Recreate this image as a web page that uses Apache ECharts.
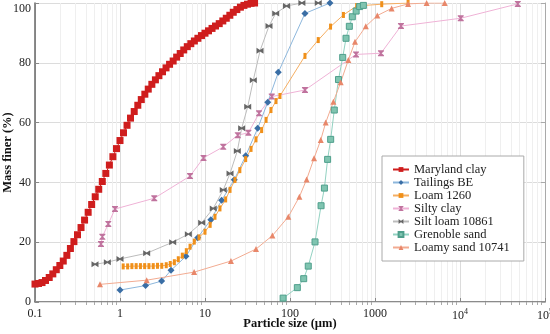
<!DOCTYPE html>
<html><head><meta charset="utf-8">
<script src="https://cdn.jsdelivr.net/npm/echarts@6/dist/echarts.min.js"></script>
<style>html,body{margin:0;padding:0;background:#fff}#c{width:550px;height:334px}</style>
</head><body><div id="c"></div>
<script>
const seriesNames = ['Maryland clay','Tailings BE','Loam 1260','Silty clay','Silt loam 10861','Grenoble sand','Loamy sand 10741'];
const yTicks = [0,20,40,60,80,100];
const xMinorTicks = [0.2,0.3,0.4,0.5,0.6,0.7,0.8,0.9,2,3,4,5,6,7,8,9,20,30,40,50,60,70,80,90,200,300,400,500,600,700,800,900,2000,3000,4000,5000,6000,7000,8000,9000,20000,30000,40000,50000,60000,70000,80000,90000];

const marylandClay = [[0.100,6.0],[0.110,6.2],[0.121,6.5],[0.133,7.2],[0.147,8.2],[0.162,9.4],[0.178,10.8],[0.196,12.2],[0.215,13.7],[0.237,15.6],[0.261,17.9],[0.287,20.2],[0.316,22.5],[0.348,24.9],[0.383,27.4],[0.422,30.0],[0.464,32.6],[0.511,35.2],[0.562,37.7],[0.619,40.3],[0.681,43.0],[0.750,45.8],[0.825,48.6],[0.909,51.3],[1.00,54.0],[1.10,56.6],[1.21,59.1],[1.33,61.5],[1.47,63.7],[1.62,65.8],[1.78,67.7],[1.96,69.5],[2.15,71.2],[2.37,72.8],[2.61,74.3],[2.87,75.7],[3.16,77.0],[3.48,78.3],[3.83,79.5],[4.22,80.6],[4.64,81.9],[5.11,83.1],[5.62,84.3],[6.19,85.4],[6.81,86.4],[7.50,87.3],[8.25,88.2],[9.09,89.1],[10.0,89.9],[11.0,90.7],[12.1,91.5],[13.3,92.3],[14.7,93.1],[16.2,94.0],[17.8,94.9],[19.6,95.9],[21.5,96.9],[23.7,97.8],[26.1,98.6],[28.7,99.2],[31.6,99.6],[34.8,99.9],[38.3,100]];
const tailingsBE = [[1.0,4.0],[2.0,5.5],[3.09,7.0],[3.98,10.6],[5.97,15.3],[8.2,21.5],[11.7,27.5],[15.7,34.0],[22.1,40.9],[30.1,48.9],[41.7,58.1],[54.7,66.8],[72.8,76.8],[150,96.5],[295,100]];
const loam1260 = [[1.09,11.9],[1.23,11.9],[1.38,12.0],[1.55,12.0],[1.74,12.0],[1.95,12.0],[2.19,12.0],[2.46,12.0],[2.76,12.1],[3.10,12.1],[3.50,12.3],[3.90,12.7],[4.36,13.3],[4.85,14.3],[5.41,15.5],[6.03,17.0],[6.67,18.5],[7.48,20.2],[8.5,21.6],[10.0,23.5],[11.5,25.8],[13.1,28.5],[15.0,31.3],[17.5,34.3],[19.7,37.5],[22.5,40.8],[25.7,44.1],[30.1,47.8],[34.8,51.2],[39.8,54.4],[46.4,57.5],[52.3,60.9],[59.7,64.2],[68.4,67.2],[76.2,68.9],[150,82.3],[215,87.6],[300,92.1],[425,96.0],[609,99.0],[1200,99.6],[2450,100]];
const siltyClay = [[0.597,19.4],[0.62,21.8],[0.728,26.1],[0.873,31.1],[2.53,34.7],[6.67,42.1],[9.6,48.2],[16.4,51.9],[24.3,55.8],[32.4,56.6],[43.2,63.1],[61,68.7],[150,70.9],[598,82.8],[1175,83.2],[2020,92.3],[10200,94.9],[47900,99.7]];
const siltLoam = [[0.508,12.6],[0.71,13.3],[1.0,14.4],[2.06,16.3],[4.17,20.0],[6.37,22.7],[9.14,26.5],[12.5,31.3],[16.4,37.5],[19.7,43.0],[24,50.5],[27,58.1],[31.8,65.3],[37,74.2],[44.4,84.0],[56.6,92.3],[67.9,96.5],[91,99.0],[138,100],[215,100]];
const grenobleSand = [[83,1.3],[122,4.8],[145,7.8],[164,12.0],[197,20.1],[232,32.2],[254,38.1],[277,47.7],[301,54.4],[332,64.2],[372,74.4],[417,81.8],[456,88.2],[499,92.2],[541,95.4],[600,97.3],[660,98.8],[730,99.2]];
const loamySand = [[0.582,5.9],[2.06,7.3],[7.45,10.0],[20.2,13.7],[39.8,17.7],[62,22.2],[95.5,28.5],[129,35.2],[157,41.0],[192,48.1],[230,54.2],[263,60.0],[324,67.0],[395,73.5],[485,80.9],[582,87.0],[780,92.2],[1064,95.8],[1570,98.2],[2450,99.7],[4050,100],[6600,100]];

const serif = 'Liberation Serif';
const hourglass = 'path://M0,0 L10,0 L10,1.5 L6.2,5 L10,8.5 L10,10 L0,10 L0,8.5 L3.8,5 L0,1.5 Z';
const bowtie = 'path://M0,0 L5,3.8 L10,0 L10,10 L5,6.2 L0,10 Z';

function mk(name, data, symbol, size, color, lineColor, extra) {
  return Object.assign({
    name, type: 'line', data, symbol, symbolSize: size,
    lineStyle: { width: 1, color: lineColor },
    itemStyle: { color },
    xAxisIndex: 0, yAxisIndex: 0
  }, extra || {});
}

const chart = echarts.init(document.getElementById('c'), null, { renderer: 'canvas' });
chart.setOption({
  animation: false,
  backgroundColor: '#fff',
  grid: { left: 35, right: 5, top: 3, bottom: 32, containLabel: false, outerBoundsMode: 'none' },
  legend: {
    data: seriesNames,
    orient: 'vertical', left: 382, top: 156,
    backgroundColor: '#fff', borderColor: '#aaa', borderWidth: 1,
    padding: [7, 14, 7, 10], itemGap: 0, itemWidth: 16, itemHeight: 6, itemTextGap: 11,
    textStyle: { fontFamily: serif, fontSize: 12.5, color: '#222', lineHeight: 13 }
  },
  xAxis: [{
    type: 'log', logBase: 10, min: 0.1, max: 100000, position: 'bottom',
    name: 'Particle size (µm)', nameLocation: 'middle', nameGap: 15, nameMoveOverlap: false,
    nameTextStyle: { fontFamily: serif, fontWeight: 'bold', fontSize: 12.5, color: '#111' },
    axisLine: { show: true, lineStyle: { color: '#666', width: 1.5 } },
    axisTick: { show: true, inside: true, length: 4, lineStyle: { color: '#888' } },
    axisLabel: {
      fontFamily: serif, fontSize: 12, color: '#222', margin: 6,
      formatter: v => {
        if (v >= 10000) return '{b|10}{s|' + Math.round(Math.log10(v)) + '}';
        return v < 1 ? String(Number(v.toFixed(1))) : String(Math.round(v));
      },
      rich: { b: { fontFamily: serif, fontSize: 12, color: '#222' }, s: { fontFamily: serif, fontSize: 8, color: '#222', padding: [0, 0, 7, 0] } }
    },
    splitLine: { show: true, lineStyle: { color: '#dcdcdc', width: 1 } }
  }, {
    type: 'log', logBase: 10, min: 0.1, max: 100000, position: 'top',
    axisLine: { show: true, lineStyle: { color: '#ddd', width: 1 } },
    axisTick: { show: true, inside: true, length: 3, customValues: xMinorTicks, lineStyle: { color: '#aaa' } },
    axisLabel: { show: false },
    splitLine: { show: true, lineStyle: { color: '#efefef', width: 1 } }
  }],
  yAxis: [{
    type: 'value', min: 0, max: 100, interval: 20, position: 'left',
    name: 'Mass finer (%)', nameLocation: 'middle', nameGap: 21, nameMoveOverlap: false,
    nameTextStyle: { fontFamily: serif, fontWeight: 'bold', fontSize: 12.5, color: '#111' },
    axisLine: { show: true, lineStyle: { color: '#666', width: 1.5 } },
    axisTick: { show: true, inside: true, length: 4, lineStyle: { color: '#888' } },
    axisLabel: { fontFamily: serif, fontSize: 12, color: '#222', margin: 4, verticalAlignMaxLabel: 'top' },
    splitLine: { show: true, lineStyle: { color: '#dcdcdc', width: 1 } }
  }, {
    type: 'value', min: 0, max: 100, interval: 20, position: 'right',
    axisLine: { show: true, lineStyle: { color: '#aaa', width: 1 } },
    axisTick: { show: true, inside: true, length: 4, lineStyle: { color: '#aaa' } },
    axisLabel: { show: false }, splitLine: { show: false }
  }],
  series: [
    mk('Maryland clay', marylandClay, 'rect', 7, '#cf1d1d', '#cf1d1d', { z: 5 }),
    mk('Tailings BE', tailingsBE, 'diamond', 7, '#3a6ea5', '#8db7dc'),
    mk('Loam 1260', loam1260, 'rect', [3, 6], '#f0901a', '#f5ae62'),
    mk('Silty clay', siltyClay, hourglass, 6, '#c0739e', '#efb2d6'),
    mk('Silt loam 10861', siltLoam, bowtie, [7, 6], '#666', '#bcbcbc'),
    mk('Grenoble sand', grenobleSand, 'rect', 6, '#7fc4b0', '#93d2c2', { itemStyle: { color: '#7fc4b0', borderColor: '#4f9f8c', borderWidth: 1 } }),
    mk('Loamy sand 10741', loamySand, 'triangle', 6, '#e8876a', '#f2ab91')
  ]
});
</script></body></html>
